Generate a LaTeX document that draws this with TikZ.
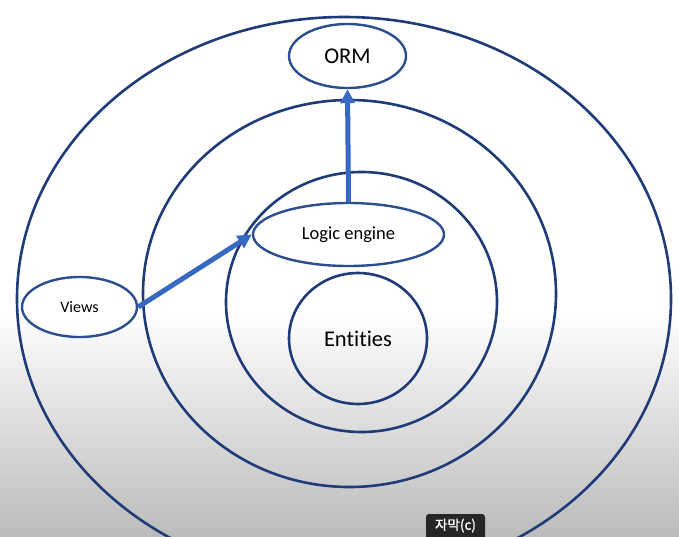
\documentclass[tikz,border=0pt]{standalone}
\usepackage{fontspec}
\setmainfont{Carlito}[Ligatures=NoCommon]
\newfontfamily\krfont{Noto Sans CJK KR}[FakeBold=1.2]
\usetikzlibrary{shapes.geometric,arrows.meta}
\definecolor{ringblue}{HTML}{1F3C78}
\definecolor{ovalblue}{HTML}{2B4E8E}
\definecolor{arrowblue}{HTML}{3768C2}
\tikzset{
  ring/.style={ellipse, draw=ringblue, line width=2.6pt, inner sep=0pt},
  oval/.style={ellipse, draw=ovalblue, line width=2.4pt, inner sep=0pt, text=black},
  link/.style={draw=arrowblue, line width=5pt, -{Triangle[length=14pt,width=14pt]}},
  caption/.style={fill=black!85, rounded corners=3pt, text=white, inner sep=0pt}
}
\begin{document}
\begin{tikzpicture}[x=1pt,y=-1pt]
\useasboundingbox (0,0) rectangle (679,536);
\clip (0,0) rectangle (679,536);
\fill[white] (0,0) rectangle (679,310);
\shade[top color=white, bottom color=gray!53] (0,310) rectangle (679,536);
% concentric rings
\node[ring, minimum width=654pt, minimum height=564pt] (outer) at (344,299) {};
\node[ring, minimum width=413pt, minimum height=387pt] (middle) at (349.5,293.5) {};
\node[ring, minimum width=271pt, minimum height=260pt] (inner) at (361.5,302) {};
\node[ring, minimum width=138pt, minimum height=131pt, font=\fontsize{22.5}{24}\selectfont] (entities) at (358,338.5) {Entities};
% labelled ovals
\node[oval, fill=white, minimum width=117pt, minimum height=64pt, font=\fontsize{22.5}{24}\selectfont] (orm) at (347.5,56) {ORM};
\node[oval, fill=white, minimum width=191pt, minimum height=63pt, font=\fontsize{18.5}{20}\selectfont] (logic) at (348.5,234.5) {Logic engine};
\node[oval, fill=white, minimum width=115pt, minimum height=60pt, font=\fontsize{16}{18}\selectfont] (views) at (79.5,307) {Views};
% arrows
\draw[link] (views.east) -- (logic.west);
\draw[link] (logic.north) -- (orm.south);
% caption badge
\node[caption, minimum width=59pt, minimum height=26pt] (badge) at (455.5,527) {};
\node[text=white, font=\krfont\fontsize{13.5}{15}\selectfont, inner sep=0pt] (badgetext) at (455.5,525.5) {자막(c)};
\end{tikzpicture}
\end{document}
